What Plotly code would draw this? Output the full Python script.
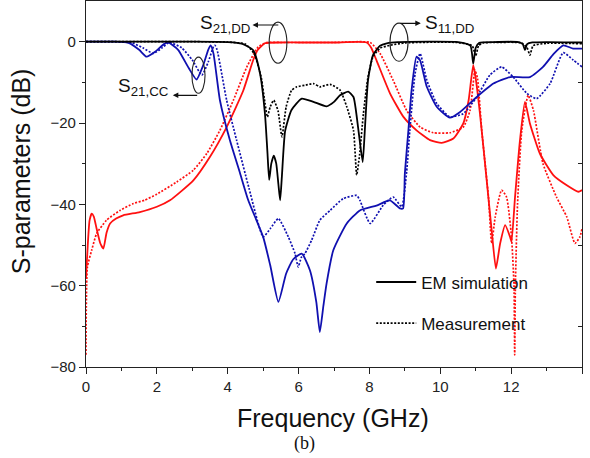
import plotly.graph_objects as go

# ---------------- data ----------------
f_dd_sim = [0, 1, 2, 3, 4, 4.4, 4.72, 4.91, 5.05, 5.12, 5.17, 5.23, 5.3, 5.37, 5.43, 5.48, 5.53, 5.62, 5.8,
            6.09, 6.42, 6.79, 7.0, 7.17, 7.4, 7.55, 7.69, 7.81, 7.87, 7.96, 8.1, 8.3, 8.49, 8.8, 10.5, 10.85,
            10.93, 11.0, 11.1, 11.5, 12.2, 12.33, 12.39, 12.45, 12.6, 13, 14]
s21_dd_sim = [0, 0, 0, 0, -0.1, -0.5, -2.1, -7.7, -17.6, -27, -34, -30, -28, -30, -35, -39, -33, -22, -16.8,
              -14, -14.8, -15.9, -14.8, -13.2, -12.3, -13.6, -21.8, -29.6, -21.8, -9.5, -3.3, -1, -0.4, -0.1,
              -0.1, -1, -5.4, -1.5, -0.3, -0.1, -0.1, -0.6, -2.1, -0.6, -0.2, -0.1, -0.2]

f_dd_meas = [0, 2, 4, 4.5, 4.75, 4.95, 5.05, 5.12, 5.2, 5.3, 5.42, 5.53, 5.65, 5.8, 5.95, 6.2, 6.42, 6.6,
             6.89, 7.17, 7.36, 7.55, 7.64, 7.72, 7.83, 7.96, 8.1, 8.3, 8.58, 9, 10.5, 10.9, 11.0, 11.08, 11.2,
             11.5, 12.3, 12.45, 12.53, 12.62, 13, 14]
s21_dd_meas = [0, 0, -0.1, -0.6, -3, -9, -15, -18.5, -16, -14.4, -17, -23.4, -16, -12, -11.1, -10.7, -10.3,
               -11.1, -10.5, -11.9, -16, -21.8, -32.8, -28, -17.7, -8.7, -3.7, -1.6, -0.9, -0.3, -0.2, -1,
               -3.5, -1, -0.3, -0.2, -0.3, -1.5, -3.3, -1, -0.4, -0.5]

f_cc_sim = [0, 0.8, 1.2, 1.5, 1.71, 1.95, 2.2, 2.32, 2.6, 2.9, 3.12, 3.3, 3.45, 3.52, 3.6, 3.78, 4.06, 4.35,
            4.58, 5.0, 5.2, 5.43, 5.65, 5.85, 6.09, 6.32, 6.5, 6.6, 6.7, 6.79, 6.98, 7.36, 7.73, 8.2, 8.58,
            8.86, 8.95, 9.0, 9.1, 9.19, 9.33, 9.43, 9.62, 9.9, 10.27, 10.56, 11.03, 11.5, 11.97, 12.53, 12.9,
            13.2, 13.47, 13.75, 14]
s21_cc_sim = [0, 0, -0.3, -2, -3.7, -2.5, -0.6, -0.2, -2, -6.5, -9.3, -6, -2, -0.9, -3, -14.4, -24.2, -32.4,
              -39, -48, -55, -64, -57, -53.5, -52.1, -56.2, -64, -71.4, -65, -59.5, -51.3, -44.7, -41.5,
              -40.3, -39, -41, -41, -32.4, -21.8, -11.9, -3.7, -4.6, -11.1, -16, -18.7, -17.3, -13.6, -10.3,
              -8.7, -8.7, -6.2, -3, -0.9, -1.7, -1.7]

f_cc_meas = [0, 0.8, 1.3, 1.6, 1.9, 2.15, 2.35, 2.7, 3.0, 3.27, 3.45, 3.6, 3.64, 3.7, 3.97, 4.25, 4.6, 5.0,
             5.2, 5.43, 5.71, 5.9, 5.99, 6.08, 6.18, 6.37, 6.6, 6.89, 7.26, 7.64, 7.73, 8.02, 8.39, 8.67,
             8.91, 9.05, 9.14, 9.29, 9.43, 9.62, 9.9, 10.27, 10.65, 11.03, 11.4, 11.73, 12.06, 12.44, 12.72,
             13.1, 13.47, 13.75, 14]
s21_cc_meas = [0, 0, -0.3, -1.5, -2.9, -1.5, -0.2, -1.5, -4.5, -8.2, -5, -1.2, -0.9, -2, -14.4, -24.2, -36,
               -48, -46, -43.5, -48, -52.1, -55.4, -53, -52.1, -48.8, -43.9, -41.5, -38.6, -37.8, -39, -44.7,
               -40.2, -38.2, -40.6, -32, -21.8, -7.8, -2.9, -9.5, -15.2, -18.5, -17.7, -13.6, -8.2, -6.2,
               -8.7, -12.7, -14, -10.3, -2.7, -4.5, -6.2]

f_11_sim = [0, 0.05, 0.1, 0.16, 0.22, 0.3, 0.4, 0.49, 0.58, 0.68, 0.85, 1.05, 1.52, 2.0, 2.37, 3.03, 3.5,
            3.97, 4.44, 4.72, 4.85, 5.05, 5.5, 6, 7, 7.92, 8.05, 8.2, 8.58, 8.96, 9.33, 9.71, 10.04, 10.37,
            10.65, 10.8, 10.93, 11.0, 11.12, 11.31, 11.45, 11.57, 11.69, 11.83, 11.97, 12.01, 12.11, 12.25,
            12.39, 12.53, 12.81, 13.19, 13.57, 13.9, 14]
s11_sim = [-58, -50, -44, -42.3, -43, -46, -49.5, -50.9, -47, -44.7, -43.5, -42.7, -41.9, -40.6, -39, -34.1,
           -28.3, -21, -12, -4.5, -2, -0.4, -0.2, -0.2, -0.2, -0.2, -1.5, -4.6, -12.7, -18.5, -21.8, -24.2,
           -24.9, -23.8, -20.1, -14.4, -5.8, -9, -17.7, -34.1, -46.4, -55.8, -49.6, -45.1, -48, -49.2, -38.2,
           -24.2, -14.8, -20.1, -27.5, -32.8, -35.3, -36.9, -36.5]

f_11_meas = [0, 0.04, 0.16, 0.3, 0.58, 0.96, 1.34, 1.65, 2.0, 2.56, 3.03, 3.41, 3.78, 4.16, 4.54, 4.86, 5.1,
             5.5, 7, 8.02, 8.3, 8.67, 9.05, 9.43, 9.8, 10.27, 10.65, 10.84, 10.98, 11.05, 11.17, 11.36, 11.45,
             11.55, 11.73, 11.87, 12.01, 12.08, 12.1, 12.12, 12.18, 12.3, 12.48, 12.63, 12.9, 13.28, 13.57,
             13.8, 13.94, 14]
s11_meas = [-77, -55.4, -51.3, -47.2, -43.9, -41.5, -39.8, -39, -37.5, -34.5, -31.6, -27.5, -21.8, -14.4,
            -6.2, -1.3, -0.2, -0.2, -0.2, -0.2, -2.9, -9.5, -16.9, -21, -22.4, -22.4, -21, -16.9, -7, -9,
            -21.8, -38.2, -49.6, -43.1, -36.5, -38.2, -48, -60, -77, -60, -40, -21.8, -13.2, -16.9, -30,
            -38.2, -43.1, -49.6, -48, -46]

x_ticks = [0, 2, 4, 6, 8, 10, 12, 14]
y_ticks = [-80, -60, -40, -20, 0]
legend_names = ["EM simulation", "Measurement"]

# ---------------- styles ----------------
RED = "#ff1010"
BLUE = "#1010b0"
BLACK = "#000000"
LW = 1.8
DOT = "2px,1.6px"

fig = go.Figure()

def add(x, y, color, dash):
    fig.add_trace(go.Scatter(x=x, y=y, mode="lines", showlegend=False, hoverinfo="skip",
                             line=dict(color=color, width=LW if dash == "solid" else 1.7, dash=dash,
                                       shape="spline", smoothing=0.5)))

add(f_11_meas, s11_meas, RED, DOT)
add(f_11_sim, s11_sim, RED, "solid")
add(f_cc_meas, s21_cc_meas, BLUE, DOT)
add(f_cc_sim, s21_cc_sim, BLUE, "solid")
add(f_dd_meas, s21_dd_meas, BLACK, DOT)
add(f_dd_sim, s21_dd_sim, BLACK, "solid")

# legend entries
fig.add_trace(go.Scatter(x=[None], y=[None], mode="lines", name=legend_names[0], legendgroup="a",
                         line=dict(color=BLACK, width=2)))
fig.add_trace(go.Scatter(x=[None], y=[None], mode="lines", name=legend_names[1], legendgroup="b",
                         line=dict(color=BLACK, width=1.7, dash=DOT)))

# right-side inner minor ticks
fig.add_trace(go.Scatter(x=[None], y=[None], yaxis="y2", showlegend=False, hoverinfo="skip"))

axis_font = dict(family="Liberation Sans, Arial", size=15, color="#222")
fig.update_layout(
    width=590, height=458,
    margin=dict(l=86, r=8, t=1, b=91),
    paper_bgcolor="white", plot_bgcolor="white",
    hovermode=False,
    font=dict(family="Liberation Sans, Arial", color="#111"),
    xaxis=dict(range=[0, 14], tickvals=x_ticks, ticks="outside", ticklen=6, tickwidth=1.3,
               tickcolor="#222", showline=True, linecolor="#222", linewidth=1.3, mirror=True,
               showgrid=False, zeroline=False, tickfont=axis_font,
               minor=dict(tickvals=[1, 3, 5, 7, 9, 11, 13], ticks="outside", ticklen=3, tickcolor="#222")),
    yaxis=dict(range=[-80, 10], tickvals=y_ticks, ticks="outside", ticklen=6, tickwidth=1.3,
               tickcolor="#222", showline=True, linecolor="#222", linewidth=1.3, mirror=True,
               showgrid=False, zeroline=False, tickfont=axis_font,
               minor=dict(tickvals=[-70, -50, -30, -10], ticks="outside", ticklen=3, tickcolor="#222")),
    yaxis2=dict(range=[-80, 10], overlaying="y", side="right", tickvals=[-70, -50, -30, -10],
                ticks="inside", ticklen=4, tickcolor="#222", showticklabels=False, showgrid=False,
                zeroline=False, showline=False),
    legend=dict(x=0.575, y=0.28, xanchor="left", yanchor="top", bgcolor="rgba(0,0,0,0)",
                font=dict(family="Liberation Sans, Arial", size=17, color="#111"),
                traceorder="grouped", tracegroupgap=16, itemwidth=40),
)

ann_font = dict(family="Liberation Sans, Arial", size=19, color="#111")
annotations = [
    dict(x=0.497, y=-0.139, xref="paper", yref="paper", text="Frequency (GHz)", showarrow=False,
         font=dict(family="Liberation Sans, Arial", size=25, color="#111"), xanchor="center", yanchor="middle"),
    dict(x=0.44, y=-0.208, xref="paper", yref="paper", text="(b)", showarrow=False,
         font=dict(family="Liberation Serif, Times New Roman", size=18, color="#111"), xanchor="center", yanchor="middle"),
    dict(x=-0.131, y=0.535, xref="paper", yref="paper", text="S-parameters (dB)", showarrow=False, textangle=-90,
         font=dict(family="Liberation Sans, Arial", size=25, color="#111"), xanchor="center", yanchor="middle"),
    # labels
    dict(x=4.68, y=4.3, text="S<sub>21,DD</sub>", showarrow=False, xanchor="right", yanchor="middle", font=ann_font),
    dict(x=2.39, y=-11.2, text="S<sub>21,CC</sub>", showarrow=False, xanchor="right", yanchor="middle", font=ann_font),
    dict(x=9.5, y=4.3, text="S<sub>11,DD</sub>", showarrow=False, xanchor="left", yanchor="middle", font=ann_font),
    # arrows
    dict(x=4.7, y=4.1, ax=5.47, ay=4.1, xref="x", yref="y", axref="x", ayref="y", text="",
         showarrow=True, arrowhead=2, arrowsize=1, arrowwidth=1.1, arrowcolor="#111"),
    dict(x=2.45, y=-13.2, ax=3.18, ay=-13.2, xref="x", yref="y", axref="x", ayref="y", text="",
         showarrow=True, arrowhead=2, arrowsize=1, arrowwidth=1.1, arrowcolor="#111"),
    dict(x=9.45, y=4.5, ax=8.84, ay=4.5, xref="x", yref="y", axref="x", ayref="y", text="",
         showarrow=True, arrowhead=2, arrowsize=1, arrowwidth=1.1, arrowcolor="#111"),
]
fig.update_layout(annotations=annotations)

ell = dict(type="circle", xref="x", yref="y", line=dict(color="#222", width=1.1))
fig.update_layout(shapes=[
    dict(ell, x0=5.17, x1=5.67, y0=-5.3, y1=4.8),
    dict(ell, x0=2.99, x1=3.36, y0=-12.7, y1=-3.8),
    dict(ell, x0=8.58, x1=9.09, y0=-4.8, y1=4.55),
])

fig.write_html("out.html", config={"displayModeBar": False},
               post_script="document.body.style.margin='0px';")
